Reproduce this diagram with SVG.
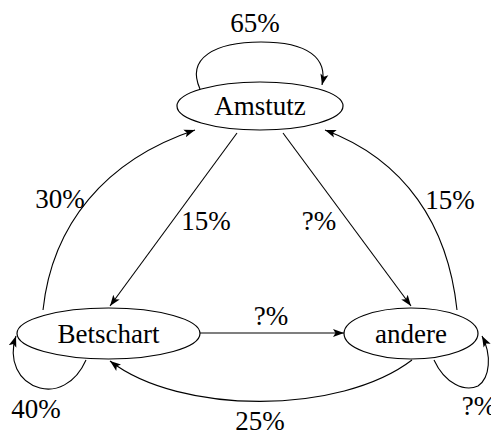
<svg xmlns="http://www.w3.org/2000/svg" width="491" height="435" viewBox="0 0 491 435">
  <style>
    .node ellipse { fill: #fff; stroke: #000; stroke-width: 1.2; }
    text { font-family: 'Liberation Serif', 'DejaVu Serif', serif; font-size: 27px; fill: #000; text-anchor: middle; }
    .edges path { fill: none; stroke: #000; stroke-width: 1.1; marker-end: url(#arr); }
  </style>
  <defs>
    <marker id="arr" markerUnits="userSpaceOnUse" markerWidth="12" markerHeight="10" viewBox="0 0 12 10" refX="11" refY="5" orient="auto">
      <path d="M0,1 L11,5 L0,9 L2.5,5 Z" fill="#000"/>
    </marker>
  </defs>

  <g class="edges" id="connectors">
    <!-- self loops -->
    <path d="M200,89 C186,58 215,42 261,42 C308,42 328,58 322,85"/>
    <path d="M86,360 C75,385 55,392 40,388 C18,382 8,360 16,336"/>
    <path d="M434,360 C445,384 465,392 478,386 C490,378 492,355 482,336"/>
    <!-- straight edges -->
    <path d="M237,133 L110,306"/>
    <path d="M283,133 L411,306"/>
    <path d="M200,333 L344,333"/>
    <!-- curved edges -->
    <path d="M43,310 C52,225 105,160 195,130"/>
    <path d="M457,310 C448,225 405,160 325,130"/>
    <path d="M412,360 C340,415 180,415 110,361"/>
  </g>

  <g class="node" id="amstutz">
    <ellipse cx="260" cy="106" rx="83" ry="24"/>
    <text x="260" y="115" font-family="Liberation Serif">Amstutz</text>
  </g>
  <g class="node" id="betschart">
    <ellipse cx="108.5" cy="333.5" rx="91.5" ry="25.5"/>
    <text x="108.5" y="343" font-family="Liberation Serif">Betschart</text>
  </g>
  <g class="node" id="andere">
    <ellipse cx="411" cy="333.5" rx="67" ry="25.5"/>
    <text x="411" y="343" font-family="Liberation Serif">andere</text>
  </g>

  <g id="labels">
    <text x="255" y="32">65%</text>
    <text x="60" y="208">30%</text>
    <text x="206" y="230">15%</text>
    <text x="319" y="230">?%</text>
    <text x="450" y="209">15%</text>
    <text x="271" y="325">?%</text>
    <text x="36" y="418">40%</text>
    <text x="260" y="430">25%</text>
    <text x="479" y="415">?%</text>
  </g>
</svg>
